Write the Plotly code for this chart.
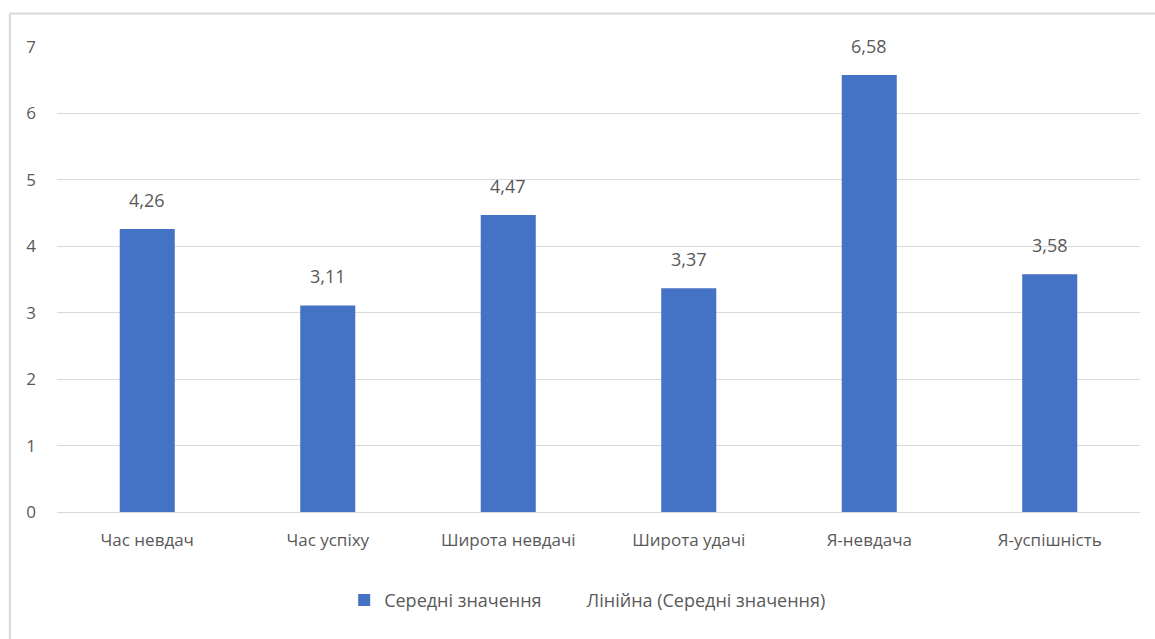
import plotly.graph_objects as go

categories = ["Час невдач", "Час успіху", "Широта невдачі", "Широта удачі", "Я-невдача", "Я-успішність"]
values = [4.26, 3.11, 4.47, 3.37, 6.58, 3.58]
y_ticks = [0, 1, 2, 3, 4, 5, 6, 7]
series_name = "Середні значення"
trend_name = "Лінійна (Середні значення)"

FONT = "Open Sans, Noto Sans, sans-serif"
GRAY = "#595959"

fig = go.Figure()
fig.add_trace(go.Bar(
    x=categories, y=values, name=series_name,
    marker=dict(color="#4472C4", line=dict(width=0)),
    hoverinfo="skip",
))
fig.add_trace(go.Scatter(
    x=categories, y=values, name=trend_name, mode="lines",
    line=dict(color="rgba(0,0,0,0)", width=1),
    hoverinfo="skip",
))

annotations = [
    dict(x=c, y=v, xref="x", yref="y", text=f"{v:.2f}".replace(".", ","),
         showarrow=False, yanchor="bottom", yshift=15,
         font=dict(family=FONT, size=18, color=GRAY))
    for c, v in zip(categories, values)
]

fig.update_layout(
    width=1155, height=639,
    margin=dict(l=57, r=15, t=47, b=127),
    paper_bgcolor="white", plot_bgcolor="white",
    bargap=0.695,
    font=dict(family=FONT, size=17, color=GRAY),
    showlegend=True,
    legend=dict(orientation="h", x=0.49, xanchor="center", y=-0.15, yanchor="top",
                font=dict(family=FONT, size=18, color=GRAY),
                itemwidth=30, traceorder="normal"),
    annotations=annotations,
    shapes=[
        dict(type="line", xref="paper", yref="paper", x0=-0.0435, x1=-0.0435, y0=1.072, y1=-0.3,
             line=dict(color="#d9d9d9", width=2)),
        dict(type="line", xref="paper", yref="paper", x0=-0.0435, x1=1.02, y0=1.072, y1=1.072,
             line=dict(color="#d9d9d9", width=2)),
    ],
)
fig.update_xaxes(showgrid=False, showline=True, linecolor="#d9d9d9", linewidth=1,
                 ticks="", tickfont=dict(family=FONT, size=17, color=GRAY), ticklabelstandoff=13)
fig.update_yaxes(range=[0, 7], tickvals=y_ticks, showgrid=True, gridcolor="#d9d9d9", gridwidth=1,
                 zeroline=False, showline=False, ticks="",
                 tickfont=dict(family=FONT, size=17, color=GRAY), ticklabelstandoff=20)

fig.write_html("out.html")
